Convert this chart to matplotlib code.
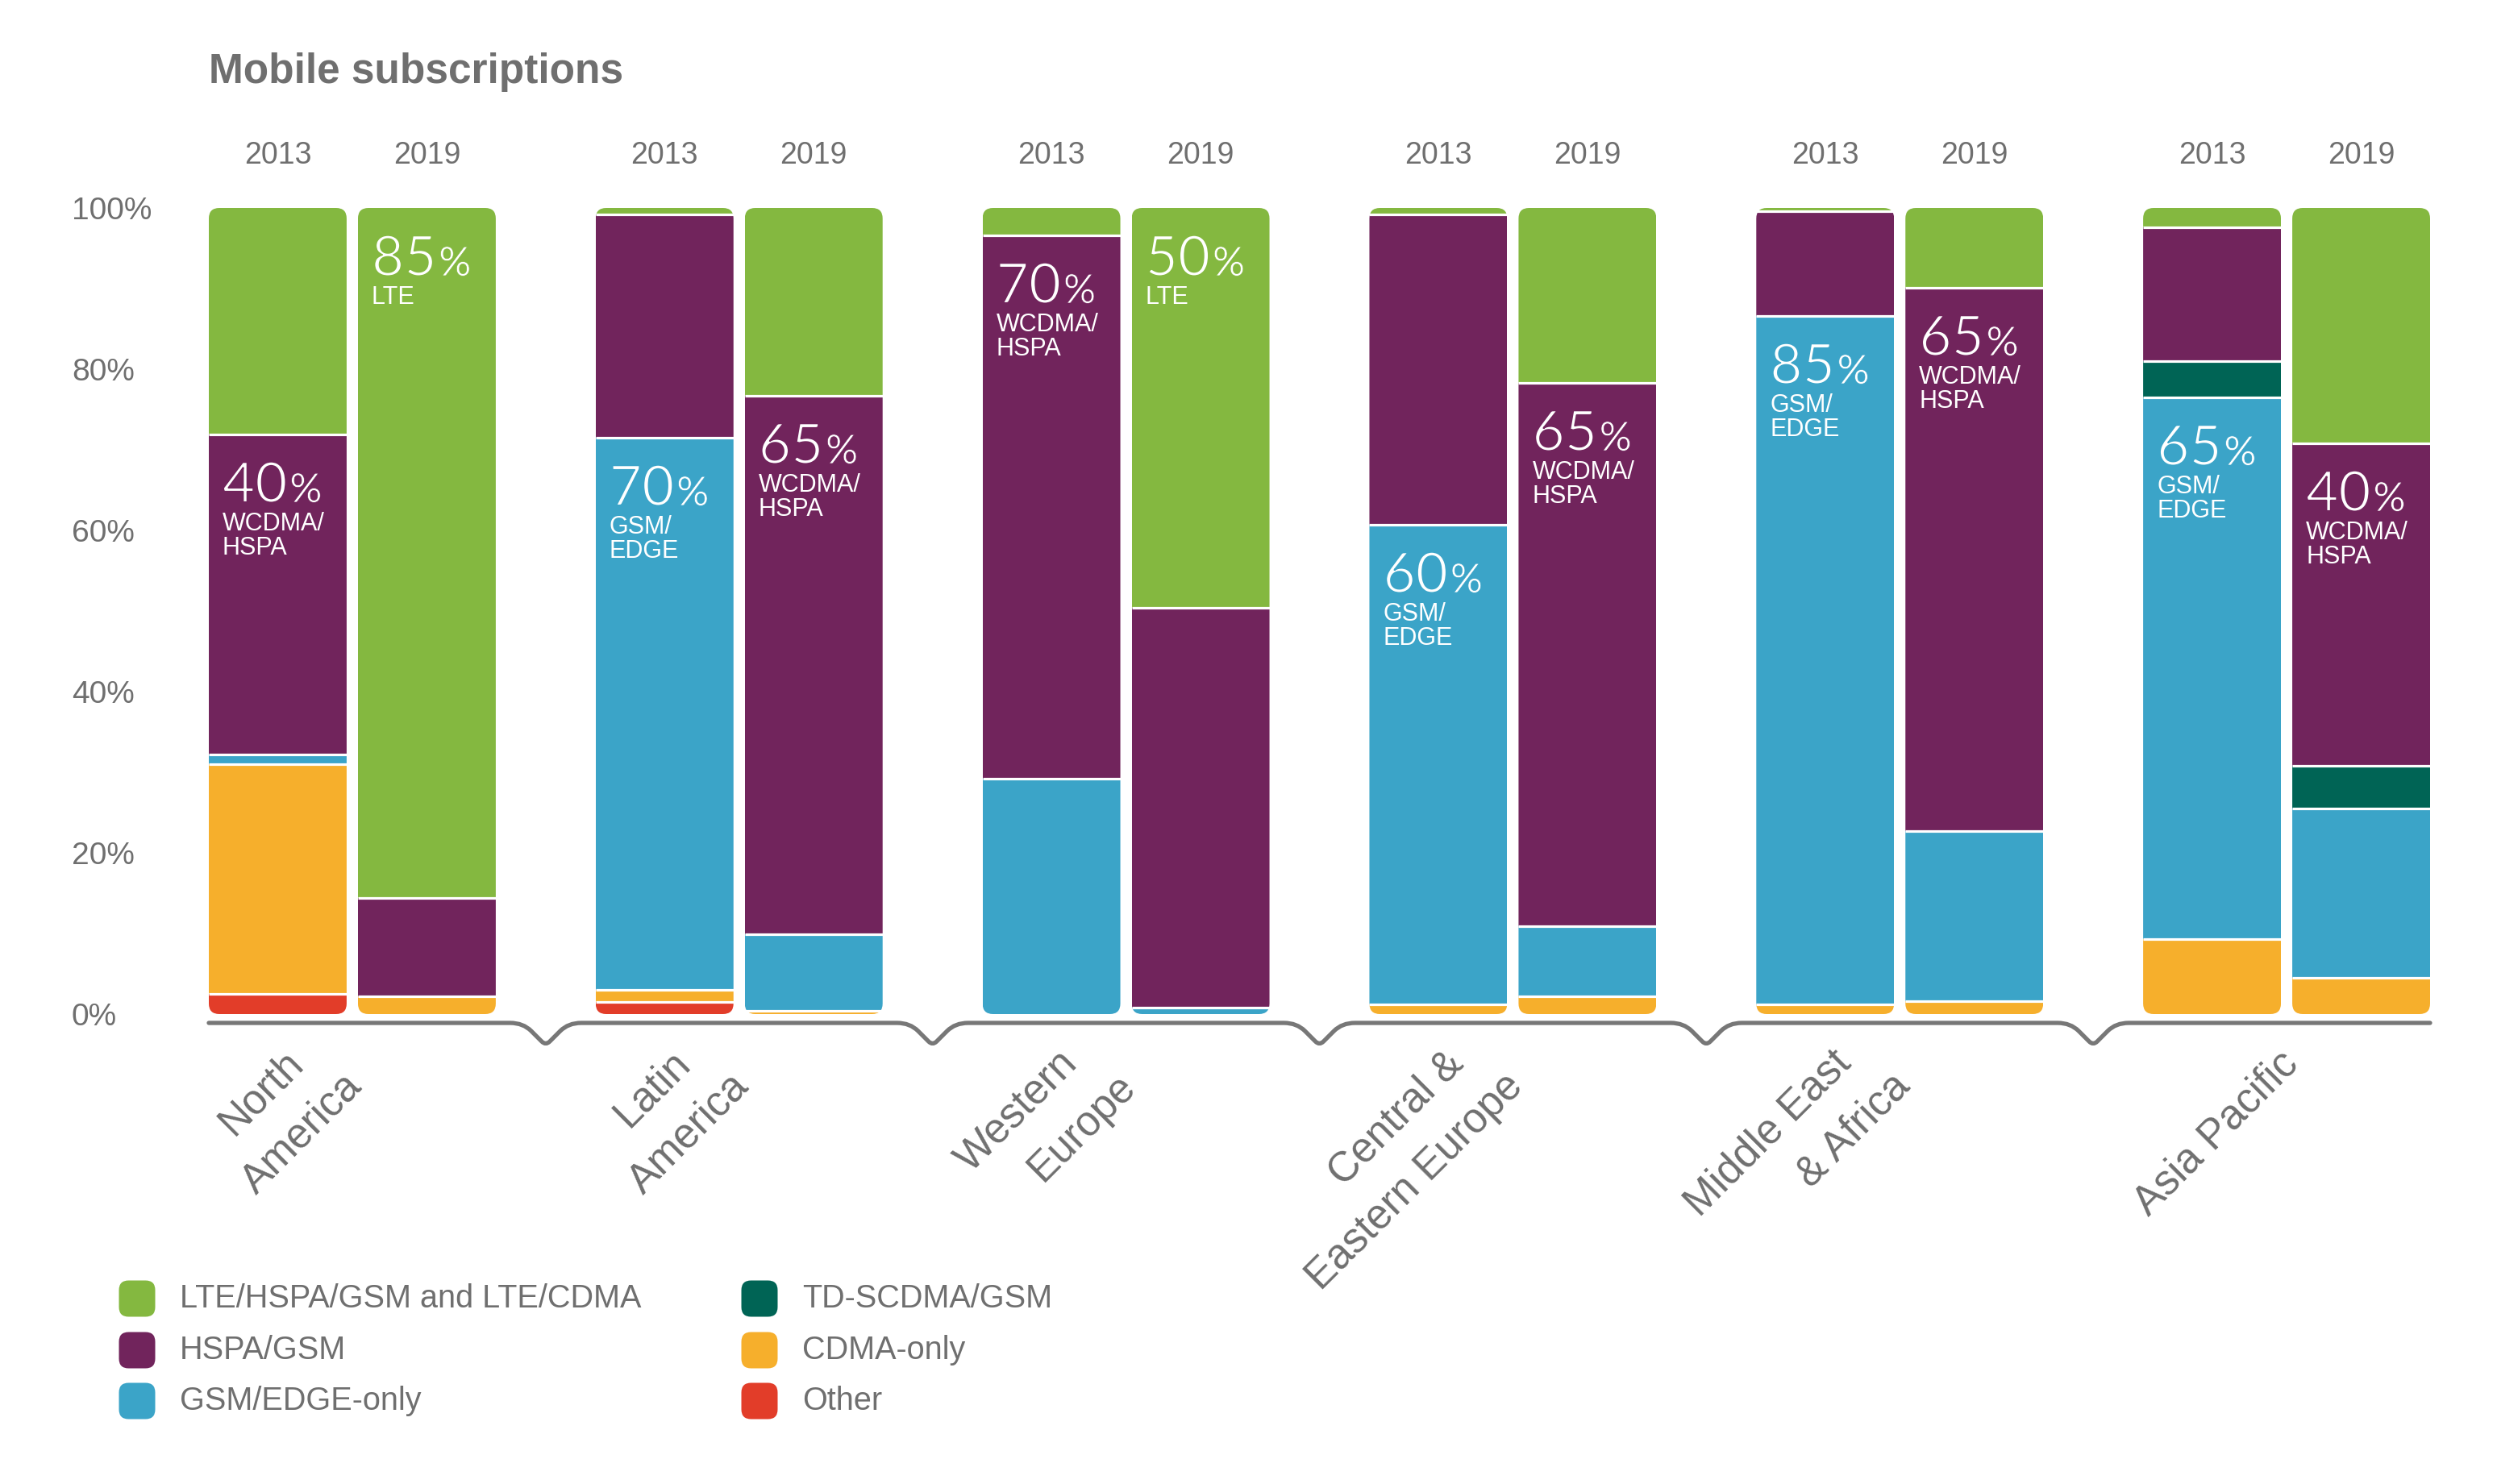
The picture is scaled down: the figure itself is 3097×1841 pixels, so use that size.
import matplotlib
matplotlib.use("Agg")
import matplotlib.pyplot as plt
import matplotlib.patheffects as pe
from matplotlib.patches import FancyBboxPatch, PathPatch
from matplotlib.path import Path
from matplotlib.offsetbox import TextArea, HPacker, VPacker, AnnotationBbox

plt.rcParams['font.family'] = ['Liberation Sans', 'DejaVu Sans']

# ---- data (percent of subscriptions, one entry per bar: region x 2013/2019) ----
regions = ['North\nAmerica', 'Latin\nAmerica', 'Western\nEurope',
           'Central &\nEastern Europe', 'Middle East\n& Africa', 'Asia Pacific']
years = ['2013', '2019']

other = [2.5, 0, 1.5, 0, 0, 0, 0, 0, 0, 0, 0, 0]
cdma = [28.5, 2.2, 1.5, 0.4, 0, 0, 1.2, 2.2, 1.2, 1.6, 9.3, 4.5]
gsm_edge = [1.2, 0, 68.5, 9.5, 29.2, 0.8, 59.5, 8.7, 85.4, 21.1, 67.2, 21.0]
td_scdma = [0, 0, 0, 0, 0, 0, 0, 0, 0, 0, 4.5, 5.3]
hspa = [39.7, 12.2, 27.7, 66.8, 67.4, 49.6, 38.5, 67.4, 13.0, 67.4, 16.6, 40.0]
lte = [28.1, 85.6, 0.8, 23.3, 3.4, 49.6, 0.8, 21.7, 0.4, 9.9, 2.4, 29.2]

callout_seg = ['hspa', 'lte', 'gsm', 'hspa', 'hspa', 'lte',
               'gsm', 'hspa', 'gsm', 'hspa', 'gsm', 'hspa']
callout_pct = ['40', '85', '70', '65', '70', '50', '60', '65', '85', '65', '65', '40']
callout_tech = ['WCDMA/\nHSPA', 'LTE', 'GSM/\nEDGE', 'WCDMA/\nHSPA', 'WCDMA/\nHSPA', 'LTE',
                'GSM/\nEDGE', 'WCDMA/\nHSPA', 'GSM/\nEDGE', 'WCDMA/\nHSPA', 'GSM/\nEDGE', 'WCDMA/\nHSPA']

GREEN = '#84B840'
PURPLE = '#71245C'
BLUE = '#3BA4C8'
TEAL = '#006455'
ORANGE = '#F6AF2C'
RED = '#E23D29'
GRAY = '#6F6F6F'

# bottom -> top stacking order
stack = [('other', other, RED), ('cdma', cdma, ORANGE), ('gsm', gsm_edge, BLUE),
         ('td', td_scdma, TEAL), ('hspa', hspa, PURPLE), ('lte', lte, GREEN)]
seg_color = {name: col for name, _, col in stack}

legend_items = [('LTE/HSPA/GSM and LTE/CDMA', GREEN), ('HSPA/GSM', PURPLE),
                ('GSM/EDGE-only', BLUE), ('TD-SCDMA/GSM', TEAL),
                ('CDMA-only', ORANGE), ('Other', RED)]

# ---- layout ----
W, H = 3097, 1841
fig = plt.figure(figsize=(W / 100, H / 100), dpi=100)
ax_l, ax_r, ax_t, ax_b = 259, 3014, 258, 1258
ax = fig.add_axes([ax_l / W, 1 - ax_b / H, (ax_r - ax_l) / W, (ax_b - ax_t) / H])

group_step = 2.594
bar_w = 0.924
xs = []
for g in range(len(regions)):
    for j in range(len(years)):
        xs.append(g * group_step + j)
x_min = xs[0] - bar_w / 2
x_max = xs[-1] + bar_w / 2
ax.set_xlim(x_min, x_max)
ax.set_ylim(0, 100)

px_x = (x_max - x_min) / (ax_r - ax_l)   # data units per pixel
px_y = 100 / (ax_b - ax_t)


def to_data(px, py):
    return x_min + (px - ax_l) * px_x, (ax_b - py) * px_y


def to_px(x):
    return ax_l + (x - x_min) / px_x


for s in ax.spines.values():
    s.set_visible(False)
ax.set_xticks([])
ax.set_yticks([0, 20, 40, 60, 80, 100])
ax.set_yticklabels(['0%', '20%', '40%', '60%', '80%', '100%'])
ax.tick_params(axis='y', length=0, pad=(ax_l - 89) * 0.72, labelsize=28, labelcolor=GRAY)
for lab in ax.get_yticklabels():
    lab.set_horizontalalignment('left')

# ---- bars ----
radius = 13
for i, x in enumerate(xs):
    clip = FancyBboxPatch((x - bar_w / 2, 0), bar_w, 100,
                          boxstyle=f"round,pad=0,rounding_size={radius * px_x}",
                          mutation_aspect=px_y / px_x, transform=ax.transData)
    bottom = 0
    tops = {}
    for name, vals, col in stack:
        v = vals[i]
        if v <= 0:
            continue
        bars = ax.bar(x, v, bottom=bottom, width=bar_w, color=col, linewidth=0)
        for r in bars:
            r.set_clip_path(clip)
        bottom += v
        tops[name] = bottom
    # white separators between segments
    for name, t in tops.items():
        if t < 99.9:
            ax.hlines(t, x - bar_w / 2, x + bar_w / 2, color='white', lw=2.3)

    # callout (light digits: regular glyphs thinned with a stroke in the bar colour)
    seg = callout_seg[i]
    top = tops[seg]
    num = TextArea(callout_pct[i], textprops=dict(
        size=50, color='white', family='Lato',
        path_effects=[pe.Stroke(linewidth=1.5, foreground=seg_color[seg])]))
    pct = TextArea('%', textprops=dict(
        size=36, color='white', family='Lato',
        path_effects=[pe.Stroke(linewidth=0.5, foreground=seg_color[seg])]))
    row = HPacker(children=[num, pct], align='baseline', pad=0, sep=2)
    sub = TextArea(callout_tech[i], textprops=dict(size=22, color='white', linespacing=1.0))
    box = VPacker(children=[row, sub], align='left', pad=0, sep=0)
    ab = AnnotationBbox(box, (x - bar_w / 2, top), xybox=(17, -33), xycoords='data',
                        boxcoords='offset pixels', box_alignment=(0, 1),
                        frameon=False, pad=0, annotation_clip=False)
    ax.add_artist(ab)

# year labels
for i, x in enumerate(xs):
    ax.text(x, 106.5, years[i % 2], ha='center', va='center', size=27, color=GRAY, clip_on=False)

# ---- baseline with notches between regions ----
line_y = -(1269 - ax_b) * px_y
notch = [(-44, 0), (-28, 0), (-18, -10), (-5, -23), (0, -28), (5, -23), (18, -10), (28, 0), (44, 0)]
codes_n = [Path.LINETO, Path.CURVE3, Path.CURVE3, Path.LINETO, Path.CURVE3, Path.CURVE3,
           Path.LINETO, Path.CURVE3, Path.CURVE3]
verts = [(x_min, line_y)]
codes = [Path.MOVETO]
for g in range(len(regions) - 1):
    m = (xs[2 * g + 1] + xs[2 * g + 2]) / 2
    for (dx, dy), c in zip(notch, codes_n):
        verts.append((m + dx * px_x, line_y + dy * px_y))
        codes.append(c)
verts.append((x_max, line_y))
codes.append(Path.LINETO)
ax.add_patch(PathPatch(Path(verts, codes), fill=False, edgecolor='#777777', lw=3.8,
                       capstyle='round', joinstyle='round', clip_on=False))

# region labels: each line right-ended along the 45 degree direction
for g, name in enumerate(regions):
    gc = to_px((xs[2 * g] + xs[2 * g + 1]) / 2)
    lines = name.split('\n')
    n = len(lines)
    if n == 1:
        end_x, end_y = gc + 16, 1322
    else:
        end_x, end_y = gc + 14, 1350
    for k, line in enumerate(lines):
        steps = n - 1 - k
        lx, ly = to_data(end_x - 73 * steps, end_y - 29 * steps)
        ax.text(lx, ly, line, rotation=45, rotation_mode='anchor',
                ha='right', va='baseline', size=37, color=GRAY, clip_on=False)

# title
fig.text(ax_l / W, 1 - 90 / H, 'Mobile subscriptions', size=37, weight='bold',
         color=GRAY, va='center', ha='left')

# ---- legend ----
col_x = [(170, 223), (942, 995)]
row_y = [1611, 1675, 1738]
msz = 45
for k, (label, col) in enumerate(legend_items):
    mx, tx = col_x[k // 3]
    my = row_y[k % 3]
    fig.patches.append(FancyBboxPatch(((mx - msz / 2) / 100, (H - my - msz / 2) / 100),
                                      msz / 100, msz / 100,
                                      boxstyle="round,pad=0,rounding_size=0.12",
                                      facecolor=col, edgecolor='none',
                                      transform=fig.dpi_scale_trans, figure=fig))
    fig.text(tx / W, 1 - my / H, label, size=28.5, color=GRAY, va='center', ha='left')

fig.savefig('out.png', dpi=100, facecolor='white')
